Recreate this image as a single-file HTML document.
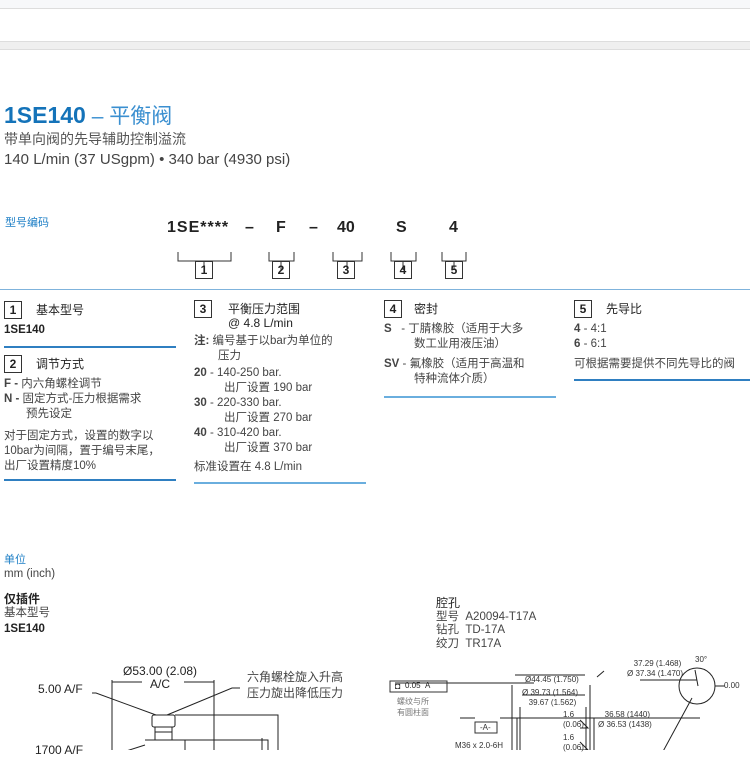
<!DOCTYPE html>
<html><head><meta charset="utf-8"><style>
body{margin:0;width:750px;height:750px;overflow:hidden;background:#fff;position:relative;font-family:"Liberation Sans","Noto Sans CJK SC",sans-serif;color:#333}
.a{position:absolute;white-space:nowrap;line-height:1.2}
.s{font-size:11.5px;color:#444}
.b{font-weight:bold;color:#222}
.box{position:absolute;width:16px;height:16px;border:1px solid #333;font-size:12px;font-weight:bold;text-align:center;line-height:16px;color:#222}
.hl{position:absolute;height:1.5px;background:#2f7fc1}
.cj{color:#555}
</style></head><body>
<div style="position:absolute;left:0;top:0;width:750px;height:8px;background:#f7f8fa;border-bottom:1px solid #ddd"></div>
<div style="position:absolute;left:0;top:41px;width:750px;height:7px;background:#efefef;border-top:1px solid #ddd;border-bottom:1px solid #ddd"></div>

<div class="a" style="left:4px;top:102px;font-size:23px;font-weight:bold;color:#1473b9">1SE140<span style="font-weight:normal;color:#3a8fd0;font-size:21px"> – 平衡阀</span></div>
<div class="a cj" style="left:4px;top:131px;font-size:14px">带单向阀的先导辅助控制溢流</div>
<div class="a" style="left:4px;top:151px;font-size:15px;color:#444">140 L/min (37 USgpm) • 340 bar (4930 psi)</div>

<div class="a" style="left:5px;top:217px;font-size:11px;color:#1e7fc6">型号编码</div>
<div class="a b" style="left:167px;top:218px;font-size:16px;letter-spacing:1px">1SE****</div>
<div class="a b" style="left:245px;top:218px;font-size:16px">–</div>
<div class="a b" style="left:276px;top:218px;font-size:16px">F</div>
<div class="a b" style="left:309px;top:218px;font-size:16px">–</div>
<div class="a b" style="left:337px;top:218px;font-size:16px">40</div>
<div class="a b" style="left:396px;top:218px;font-size:16px">S</div>
<div class="a b" style="left:449px;top:218px;font-size:16px">4</div>
<svg style="position:absolute;left:0;top:0" width="750" height="300">
<g stroke="#333" fill="none" stroke-width="1">
<path d="M178 252v9h53v-9M204 261v9"/><path d="M269 252v9h25v-9M281 261v9"/><path d="M333 252v9h29v-9M347 261v9"/><path d="M391 252v9h25v-9M403 261v9"/><path d="M442 252v9h24v-9M454 261v9"/>
</g></svg>
<div class="box" style="left:195px;top:261px">1</div>
<div class="box" style="left:272px;top:261px">2</div>
<div class="box" style="left:337px;top:261px">3</div>
<div class="box" style="left:394px;top:261px">4</div>
<div class="box" style="left:445px;top:261px">5</div>
<div class="hl" style="left:0;top:289px;width:750px;height:1px;background:#7fb3dc"></div>

<!-- col1 -->
<div class="box" style="left:4px;top:301px">1</div>
<div class="a" style="left:36px;top:303px;font-size:12px;color:#222">基本型号</div>
<div class="a b" style="left:4px;top:324px;font-size:11.5px">1SE140</div>
<div class="hl" style="left:4px;top:346px;width:172px"></div>
<div class="box" style="left:4px;top:355px">2</div>
<div class="a" style="left:36px;top:357px;font-size:12px;color:#222">调节方式</div>
<div class="a s" style="left:4px;top:378px"><b>F -</b> 内六角螺栓调节</div>
<div class="a s" style="left:4px;top:393px"><b>N -</b> 固定方式-压力根据需求</div>
<div class="a s" style="left:26px;top:408px">预先设定</div>
<div class="a s" style="left:4px;top:430px">对于固定方式，设置的数字以</div>
<div class="a s" style="left:4px;top:445px">10bar为间隔，置于编号末尾，</div>
<div class="a s" style="left:4px;top:460px">出厂设置精度10%</div>
<div class="hl" style="left:4px;top:479px;width:172px"></div>

<!-- col3 -->
<div class="box" style="left:194px;top:300px">3</div>
<div class="a" style="left:228px;top:302px;font-size:12px;color:#222">平衡压力范围</div>
<div class="a" style="left:228px;top:316px;font-size:12px;color:#222">@ 4.8 L/min</div>
<div class="a s" style="left:194px;top:335px"><b>注:</b> 编号基于以bar为单位的</div>
<div class="a s" style="left:218px;top:350px">压力</div>
<div class="a s" style="left:194px;top:367px"><b>20</b> - 140-250 bar.</div>
<div class="a s" style="left:224px;top:382px">出厂设置 190 bar</div>
<div class="a s" style="left:194px;top:397px"><b>30</b> - 220-330 bar.</div>
<div class="a s" style="left:224px;top:412px">出厂设置 270 bar</div>
<div class="a s" style="left:194px;top:427px"><b>40</b> - 310-420 bar.</div>
<div class="a s" style="left:224px;top:442px">出厂设置 370 bar</div>
<div class="a s" style="left:194px;top:461px">标准设置在 4.8 L/min</div>
<div class="hl" style="left:194px;top:482px;width:172px;background:#6aaede"></div>

<!-- col4 -->
<div class="box" style="left:384px;top:300px">4</div>
<div class="a" style="left:414px;top:302px;font-size:12px;color:#222">密封</div>
<div class="a s" style="left:384px;top:323px"><b>S</b> &nbsp; - 丁腈橡胶（适用于大多</div>
<div class="a s" style="left:414px;top:338px">数工业用液压油）</div>
<div class="a s" style="left:384px;top:358px"><b>SV</b> - 氟橡胶（适用于高温和</div>
<div class="a s" style="left:414px;top:373px">特种流体介质）</div>
<div class="hl" style="left:384px;top:396px;width:172px;background:#6aaede"></div>

<!-- col5 -->
<div class="box" style="left:574px;top:300px">5</div>
<div class="a" style="left:606px;top:302px;font-size:12px;color:#222">先导比</div>
<div class="a s" style="left:574px;top:323px"><b>4</b> - 4:1</div>
<div class="a s" style="left:574px;top:338px"><b>6</b> - 6:1</div>
<div class="a s" style="left:574px;top:358px">可根据需要提供不同先导比的阀</div>
<div class="hl" style="left:574px;top:379px;width:176px"></div>

<div class="a" style="left:4px;top:554px;font-size:11px;color:#1e7fc6">单位</div>
<div class="a s" style="left:4px;top:568px">mm (inch)</div>
<div class="a" style="left:4px;top:592px;font-size:12px;color:#222;font-weight:bold">仅插件</div>
<div class="a s" style="left:4px;top:607px">基本型号</div>
<div class="a b" style="left:4px;top:623px;font-size:11.5px">1SE140</div>

<div class="a" style="left:436px;top:596px;font-size:12px;color:#222">腔孔</div>
<div class="a s" style="left:436px;top:611px">型号 &nbsp;A20094-T17A</div>
<div class="a s" style="left:436px;top:624px">钻孔 &nbsp;TD-17A</div>
<div class="a s" style="left:436px;top:638px">绞刀 &nbsp;TR17A</div>

<!-- left drawing -->
<div class="a" style="left:123px;top:664px;font-size:12px;color:#222">Ø53.00 (2.08)</div>
<div class="a" style="left:150px;top:677px;font-size:12px;color:#222">A/C</div>
<div class="a" style="left:38px;top:682px;font-size:12px;color:#222">5.00 A/F</div>
<div class="a" style="left:247px;top:670px;font-size:12px;color:#444">六角螺栓旋入升高</div>
<div class="a" style="left:247px;top:686px;font-size:12px;color:#444">压力旋出降低压力</div>
<div class="a" style="left:35px;top:743px;font-size:12px;color:#222">1700 A/F</div>
<svg style="position:absolute;left:0;top:640px" width="750" height="110">
<g stroke="#222" fill="none" stroke-width="1">
<path d="M112 40v70M214 40v70M112 42h30M184 42h30"/>
<path d="M92 53h4l60 22M240 48h-8l-65 27"/>
<rect x="152" y="75" width="23" height="12" rx="2"/>
<path d="M175 75h103v35M155 87v13M172 87v13M155 92h17M145 100h40v10M185 100h83v10M262 110v-12M145 105l-25 8"/>
<path d="M395 43h75M534 43h-72"/>
<!-- right drawing -->
<path d="M512 45v65M590 45v65M515 35h70M520 67v43M586 67v43M522 55h63M500 78h200M517 78v32M594 78v32M460 78h15"/>
<path d="M580 80l8 8-8 0M580 102l8 8-8 0M597 37l7 -6"/>
<circle cx="697" cy="46" r="18"/>
<path d="M715 46h10M640 40h57M695 30l3 16M692 58l-38 70"/>
</g>
<rect x="390" y="41" width="57" height="11" fill="none" stroke="#333"/>
<rect x="475" y="82" width="22" height="11" fill="none" stroke="#333"/>
</svg>
<div class="a" style="left:405px;top:681px;font-size:8px;color:#222">0.05 &nbsp;A</div>
<div class="a" style="left:395px;top:681px;font-size:9px;font-weight:bold">◘</div>
<div class="a" style="left:397px;top:697px;font-size:8px;color:#777">螺纹与所</div>
<div class="a" style="left:397px;top:708px;font-size:8px;color:#777">有圆柱面</div>
<div class="a" style="left:480px;top:723px;font-size:8px">-A-</div>
<div class="a" style="left:455px;top:741px;font-size:8px">M36 x 2.0-6H</div>
<div class="a" style="left:525px;top:675px;font-size:8px">Ø44.45 (1.750)</div>
<div class="a" style="left:522px;top:688px;font-size:8px">Ø 39.73 (1.564)<br>&nbsp;&nbsp;&nbsp;39.67 (1.562)</div>
<div class="a" style="left:563px;top:710px;font-size:8px">1.6<br>(0.06)</div>
<div class="a" style="left:563px;top:733px;font-size:8px">1.6<br>(0.06)</div>
<div class="a" style="left:598px;top:710px;font-size:8px">&nbsp;&nbsp;&nbsp;36.58 (1440)<br>Ø 36.53 (1438)</div>
<div class="a" style="left:627px;top:659px;font-size:8px">&nbsp;&nbsp;&nbsp;37.29 (1.468)<br>Ø 37.34 (1.470)</div>
<div class="a" style="left:695px;top:655px;font-size:8px">30°</div>
<div class="a" style="left:724px;top:681px;font-size:8px">0.00</div>
</body></html>
